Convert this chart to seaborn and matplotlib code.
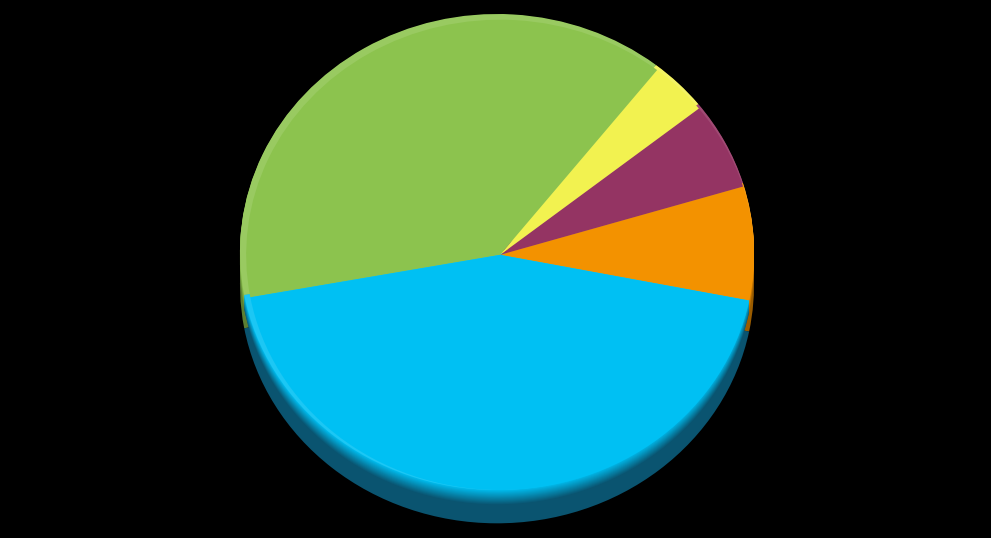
import matplotlib
matplotlib.use("Agg")
import matplotlib.pyplot as plt
import seaborn as sns
import numpy as np

# slice data, counter-clockwise from the orange slice
labels = ["Orange", "Purple", "Yellow", "Green", "Blue"]
values = [7.8, 6.0, 3.7, 38.5, 44.0]
top_colors = ["#F39200", "#943463", "#F2F250", "#8CC34E", "#00C0F3"]
side_colors = ["#9A5C00", "#5A1F3C", "#9A9A30", "#5C7F33", "#0A5470"]

sns.set_style("white")

fig = plt.figure(figsize=(9.91, 5.38), dpi=100, facecolor="black")
ax = fig.add_axes([0, 0, 1, 1])
ax.set_facecolor("black")

start = -11.2
depth = 0.14   # thickness of the 3d side, in radius units

# solid dark side
ax.pie(values, colors=side_colors, startangle=start, center=(0, -depth),
       radius=1.0, wedgeprops=dict(linewidth=0))

# soft gradient from side colour to top colour
n_steps = 14
grads = [sns.blend_palette([s, t], n_colors=n_steps + 2)
         for s, t in zip(side_colors, top_colors)]
for i, off in enumerate(np.linspace(0.06, 0.003, n_steps)):
    cols = [g[i + 1] for g in grads]
    ax.pie(values, colors=cols, startangle=start, center=(0, -off),
           radius=1.0, wedgeprops=dict(linewidth=0))

# lighter bevel rim on the upper-left edge
rim_colors = [sns.blend_palette([c, "#FFFFFF"], n_colors=10)[1] for c in top_colors]
ax.pie(values, colors=rim_colors, startangle=start, center=(0, 0),
       radius=1.0, wedgeprops=dict(linewidth=0))

# top face
wedges, _ = ax.pie(values, colors=top_colors, startangle=start,
                   center=(0.012, -0.012), radius=0.988,
                   wedgeprops=dict(linewidth=0))

ax.set_aspect("auto")
ax.set_xlim(-497 / 257, (991 - 497) / 257)
ax.set_ylim((252 - 538) / 238, 252 / 238)
ax.axis("off")

fig.savefig("out.png", dpi=100, facecolor="black")
